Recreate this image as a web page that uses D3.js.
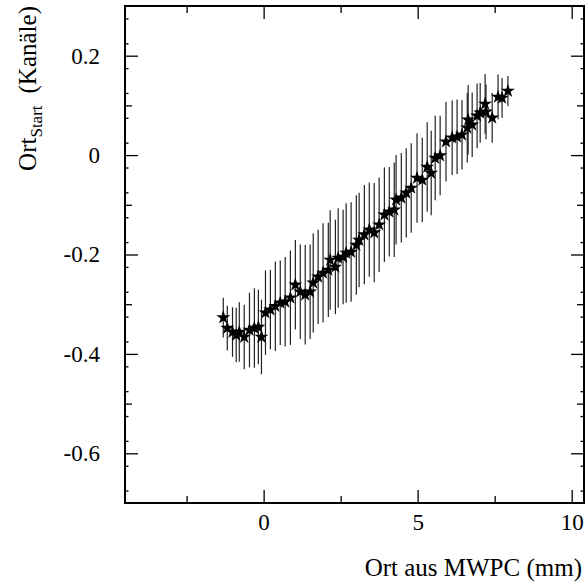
<!DOCTYPE html>
<html>
<head>
<meta charset="utf-8">
<script src="https://cdn.jsdelivr.net/npm/d3@7"></script>
<style>
  body { margin: 0; background: #fff; }
  svg { display: block; }
  svg text { font-family: "Liberation Serif", "Times New Roman", Times, "DejaVu Serif", serif; fill: #000; }
</style>
</head>
<body>
<div id="chart"></div>
<script>
// measured points: position from MWPC (mm), start position (channels), error
const ortMwpc = [
  -1.31, -1.18, -1.01, -0.89, -0.79, -0.63, -0.46, -0.30, -0.17, -0.07,
  0.06, 0.22, 0.38, 0.54, 0.70, 0.87, 1.03, 1.19, 1.35, 1.51,
  1.61, 1.77, 1.93, 2.10, 2.16, 2.33, 2.42, 2.58, 2.68, 2.84,
  3.01, 3.10, 3.27, 3.43, 3.59, 3.75, 3.92, 4.08, 4.24, 4.30,
  4.47, 4.63, 4.79, 4.98, 5.15, 5.31, 5.44, 5.57, 5.73, 5.92,
  6.12, 6.28, 6.44, 6.61, 6.64, 6.77, 6.93, 7.03, 7.19, 7.22,
  7.42, 7.61, 7.74, 7.93
];
const ortStart = [
  -0.327, -0.348, -0.356, -0.362, -0.356, -0.366, -0.352, -0.348, -0.346, -0.366,
  -0.317, -0.311, -0.304, -0.297, -0.295, -0.287, -0.261, -0.275, -0.281, -0.275,
  -0.257, -0.245, -0.237, -0.231, -0.211, -0.225, -0.207, -0.205, -0.197, -0.195,
  -0.181, -0.171, -0.160, -0.150, -0.156, -0.140, -0.120, -0.114, -0.110, -0.090,
  -0.086, -0.076, -0.066, -0.046, -0.050, -0.024, -0.036, -0.006, -0.001, 0.027,
  0.035, 0.037, 0.041, 0.055, 0.071, 0.061, 0.079, 0.085, 0.103, 0.087,
  0.075, 0.117, 0.115, 0.129
];
const ortErr = [
  0.040, 0.045, 0.050, 0.055, 0.060, 0.065, 0.075, 0.080, 0.075, 0.075,
  0.085, 0.080, 0.090, 0.085, 0.090, 0.095, 0.090, 0.095, 0.100, 0.095,
  0.100, 0.095, 0.100, 0.095, 0.100, 0.095, 0.100, 0.095, 0.100, 0.100,
  0.100, 0.095, 0.100, 0.095, 0.100, 0.095, 0.095, 0.090, 0.095, 0.090,
  0.090, 0.090, 0.090, 0.090, 0.085, 0.090, 0.085, 0.085, 0.080, 0.080,
  0.075, 0.075, 0.070, 0.070, 0.070, 0.065, 0.065, 0.060, 0.060, 0.055,
  0.050, 0.045, 0.040, 0.030
];

const xMajor = [0, 5, 10];
const xMedium = [-2.5, 2.5, 7.5];
const yMajor = [-0.6, -0.4, -0.2, 0, 0.2];
const yMedium = [-0.5, -0.3, -0.1, 0.1];
const yMinor = [-0.675, -0.625, -0.575, -0.525, -0.475, -0.425, -0.375, -0.325, -0.275,
  -0.225, -0.175, -0.125, -0.075, -0.025, 0.025, 0.075, 0.125, 0.175, 0.225, 0.275];

const serif = '"Liberation Serif", "Times New Roman", Times, "DejaVu Serif", serif';
const width = 587, height = 584;
const frame = { left: 125, right: 584, top: 6, bottom: 503 };

const svg = d3.select("#chart").append("svg")
  .attr("width", width)
  .attr("height", height);

const x = d3.scaleLinear().domain([-4.5, 10.4]).range([frame.left, frame.right]);
const y = d3.scaleLinear().domain([-0.7, 0.3]).range([frame.bottom, frame.top]);

const fmtY = d => d === 0 ? "0" : d3.format(".1f")(d).replace("−", "-");

function tickAxis(axis, transform, values, size, labels, pad) {
  const g = svg.append("g")
    .attr("transform", transform)
    .call(axis.tickValues(values).tickSize(-size).tickPadding(pad || 3)
      .tickFormat(labels ? labels : () => ""));
  g.attr("font-family", serif).attr("font-size", 23);
  g.select(".domain").remove();
  g.selectAll(".tick line").attr("stroke", "#000").attr("stroke-width", 1.3);
  g.selectAll(".tick text").attr("fill", "#000");
  return g;
}

// bottom / top
tickAxis(d3.axisBottom(x), `translate(0,${frame.bottom})`, xMajor, 13, d => d3.format("d")(d), 11);
tickAxis(d3.axisBottom(x), `translate(0,${frame.bottom})`, xMedium, 7);
tickAxis(d3.axisTop(x), `translate(0,${frame.top})`, xMajor, 13);
tickAxis(d3.axisTop(x), `translate(0,${frame.top})`, xMedium, 7);
// left / right
tickAxis(d3.axisLeft(y), `translate(${frame.left},0)`, yMajor, 13, fmtY, 25);
tickAxis(d3.axisLeft(y), `translate(${frame.left},0)`, yMedium, 7);
tickAxis(d3.axisLeft(y), `translate(${frame.left},0)`, yMinor, 3.5);
tickAxis(d3.axisRight(y), `translate(${frame.right},0)`, yMajor, 13);
tickAxis(d3.axisRight(y), `translate(${frame.right},0)`, yMedium, 7);
tickAxis(d3.axisRight(y), `translate(${frame.right},0)`, yMinor, 3.5);

// frame
svg.append("rect")
  .attr("x", frame.left).attr("y", frame.top)
  .attr("width", frame.right - frame.left).attr("height", frame.bottom - frame.top)
  .attr("fill", "none")
  .attr("stroke", "#000")
  .attr("stroke-width", 2);

const pts = ortMwpc.map((v, i) => ({ x: v, y: ortStart[i], e: ortErr[i] }));

// error bars
svg.append("g").selectAll("line")
  .data(pts)
  .enter()
  .append("line")
  .attr("x1", d => x(d.x)).attr("x2", d => x(d.x))
  .attr("y1", d => y(d.y + d.e)).attr("y2", d => y(d.y - d.e))
  .attr("stroke", "#222")
  .attr("stroke-width", 1.2);

// star markers
svg.append("g").selectAll("path")
  .data(pts)
  .enter()
  .append("path")
  .attr("transform", d => `translate(${x(d.x)},${y(d.y)})`)
  .attr("d", d3.symbol().type(d3.symbolStar).size(60))
  .attr("fill", "#000");

// axis titles
svg.append("text")
  .attr("x", 582)
  .attr("y", 576)
  .attr("text-anchor", "end")
  .attr("font-family", serif)
  .attr("font-size", 25)
  .text("Ort aus MWPC (mm)");

const yt = svg.append("text")
  .attr("transform", "rotate(-90)")
  .attr("x", -6)
  .attr("y", 36)
  .attr("text-anchor", "end")
  .attr("font-family", serif)
  .attr("font-size", 25);
yt.append("tspan").text("Ort");
yt.append("tspan").attr("dy", 6).attr("font-size", 17).text("Start");
yt.append("tspan").attr("dy", -6).attr("dx", 12).text("(Kanäle)");
</script>
</body>
</html>
